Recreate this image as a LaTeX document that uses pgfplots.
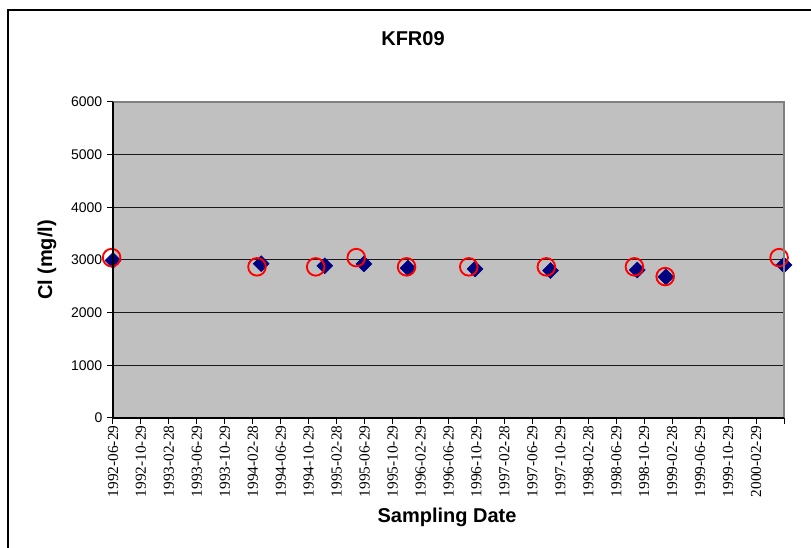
\documentclass[border=0pt]{standalone}
\usepackage{fontspec}
\setmainfont{Liberation Serif}
\newfontfamily\arial{Liberation Sans}
\usepackage{pgfplots}
\pgfplotsset{compat=1.18}
\definecolor{plotgray}{HTML}{C0C0C0}
\definecolor{bordergray}{HTML}{808080}
\definecolor{navy}{HTML}{000080}
\begin{document}
\begin{tikzpicture}
\useasboundingbox (0,0) rectangle (608.25pt,411pt);
\fill[white] (0,0) rectangle (608.25pt,411pt);
% chart frame (cropped at right and bottom)
\draw[line width=1.1pt, black] (6pt,-2pt) -- (6pt,403.5pt) -- (612pt,403.5pt);
\begin{axis}[
  at={(84.75pt,97.5pt)}, anchor=south west,
  scale only axis, width=503.25pt, height=237pt,
  xmin=0, xmax=96, ymin=0, ymax=6000,
  clip=false,
  axis background/.style={fill=plotgray},
  axis line style={draw=none},
  ymajorgrids, grid style={black!90, line width=0.75pt},
  xtick={0,4,...,96},
  xticklabels={1992-06-29,1992-10-29,1993-02-28,1993-06-29,1993-10-29,1994-02-28,1994-06-29,1994-10-29,1995-02-28,1995-06-29,1995-10-29,1996-02-29,1996-06-29,1996-10-29,1997-02-28,1997-06-29,1997-10-29,1998-02-28,1998-06-29,1998-10-29,1999-02-28,1999-06-29,1999-10-29,2000-02-29,{}},
  ytick={0,1000,...,6000},
  xtick pos=left, ytick pos=left,
  tick align=outside, major tick length=4.5pt,
  tick style={black, line width=0.75pt},
  x tick label style={rotate=90, anchor=east, font=\fontsize{11.5pt}{12pt}\selectfont, inner sep=1pt},
  y tick label style={font=\arial\fontsize{10.5pt}{12pt}\selectfont},
  yticklabel style={/pgf/number format/assume math mode=true},
  /pgf/number format/1000 sep={},
  after end axis/.code={
    \draw[bordergray, line width=1.6pt] (rel axis cs:0,1) -- (rel axis cs:1,1) -- (rel axis cs:1,0);
    \draw[black, line width=1.1pt] (rel axis cs:1,0) -- (rel axis cs:0,0) -- (rel axis cs:0,1);
  },
]
\addplot[only marks, mark=square*, mark size=4.2pt, mark options={rotate=45, fill=navy, draw=navy}] coordinates {
(0,2990) (21.2,2930) (30.3,2890) (35.9,2925) (42.2,2845) (51.8,2830) (62.6,2800) (75,2810) (79.1,2680) (96,2905)
};
\addplot[only marks, mark=o, mark size=6.6pt, mark options={draw=red, line width=1.4pt}] coordinates {
(-0.2,3045) (20.6,2870) (29,2870) (34.8,3045) (42,2870) (50.9,2870) (62,2870) (74.6,2870) (79,2685) (95.3,3045)
};
\end{axis}
\node[anchor=base, font=\arial\bfseries\fontsize{15pt}{18pt}\selectfont] at (309.75pt,376.5pt) {KFR09};
\node[anchor=base, font=\arial\bfseries\fontsize{15pt}{18pt}\selectfont] at (335.25pt,18.75pt) {Sampling Date};
\node[anchor=base, rotate=90, font=\arial\bfseries\fontsize{15pt}{18pt}\selectfont] at (39pt,216pt) {Cl (mg/l)};
\end{tikzpicture}
\end{document}
